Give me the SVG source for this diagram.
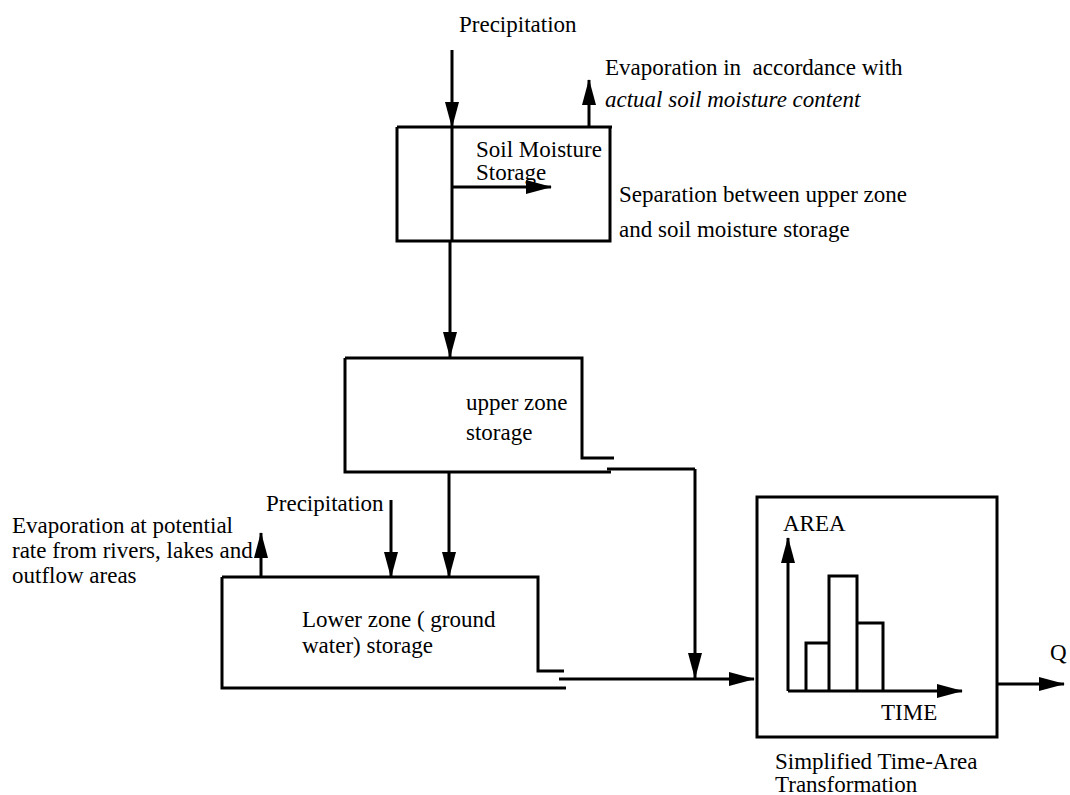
<svg xmlns="http://www.w3.org/2000/svg" width="1070" height="795" viewBox="0 0 1070 795">
<defs>
<style>
.t{font-family:"Liberation Serif","Times New Roman",serif;font-size:23px;fill:#000;white-space:pre}
.i{font-style:italic}
.box{fill:none;stroke:#000;stroke-width:3}
.ln{fill:none;stroke:#000;stroke-width:3}
.ar{fill:none;stroke:#000;stroke-width:3;marker-end:url(#ah)}
</style>
<marker id="ah" markerUnits="userSpaceOnUse" markerWidth="26" markerHeight="14" refX="25" refY="7" orient="auto">
<path d="M0,0 L26,7 L0,14 Z" fill="#000"/>
</marker>
</defs>
<rect width="1070" height="795" fill="#fff"/>

<g id="soil">
<path class="box" d="M397,127 H612 M610,127 V241 H397 V127"/>
<text class="t" x="476" y="157">Soil Moisture</text>
<text class="t" x="476" y="180">Storage</text>
</g>

<g id="upper">
<path class="box" d="M345,358 H582 V458 H614 M611,472 H345 V358"/>
<text class="t" x="466" y="410">upper zone</text>
<text class="t" x="466" y="440">storage</text>
</g>

<g id="lower">
<path class="box" d="M222,577 H538 V671 H564 M566,688 H222 V577"/>
<text class="t" x="302" y="627">Lower zone ( ground</text>
<text class="t" x="302" y="653">water) storage</text>
</g>

<g id="timearea">
<rect class="box" x="757" y="497" width="240" height="240"/>
<text class="t" x="783" y="531">AREA</text>
<text class="t" x="881" y="720">TIME</text>
<path class="box" d="M806,691 V643 H829 V691 M829,643 V576 H857 V691 M857,623 H883 V691"/>
<path class="ar" d="M788,691 V538"/>
<path class="ar" d="M788,691 H962"/>
</g>

<g id="labels">
<text class="t" x="459" y="32">Precipitation</text>
<text class="t" x="605" y="75">Evaporation in  accordance with</text>
<text class="t i" x="605" y="107">actual soil moisture content</text>
<text class="t" x="619" y="202">Separation between upper zone</text>
<text class="t" x="619" y="237">and soil moisture storage</text>
<text class="t" x="266" y="511">Precipitation</text>
<text class="t" x="12" y="533">Evaporation at potential</text>
<text class="t" x="12" y="558">rate from rivers, lakes and</text>
<text class="t" x="12" y="583">outflow areas</text>
<text class="t" x="775" y="769">Simplified Time-Area</text>
<text class="t" x="775" y="792">Transformation</text>
<text class="t" x="1050" y="660">Q</text>
</g>

<g id="connectors">
<path class="ar" d="M452,50 V127"/>
<path class="ln" d="M452,127 V241"/>
<path class="ar" d="M452,187 H551"/>
<path class="ar" d="M589,127 V80"/>
<path class="ar" d="M450,241 V357"/>
<path class="ar" d="M449,472 V577"/>
<path class="ar" d="M391,500 V577"/>
<path class="ar" d="M261,577 V533"/>
<path class="ln" d="M607,469 H695"/>
<path class="ar" d="M695,469 V678"/>
<path class="ar" d="M559,679 H754"/>
<path class="ar" d="M997,684 H1064"/>
</g>
</svg>
